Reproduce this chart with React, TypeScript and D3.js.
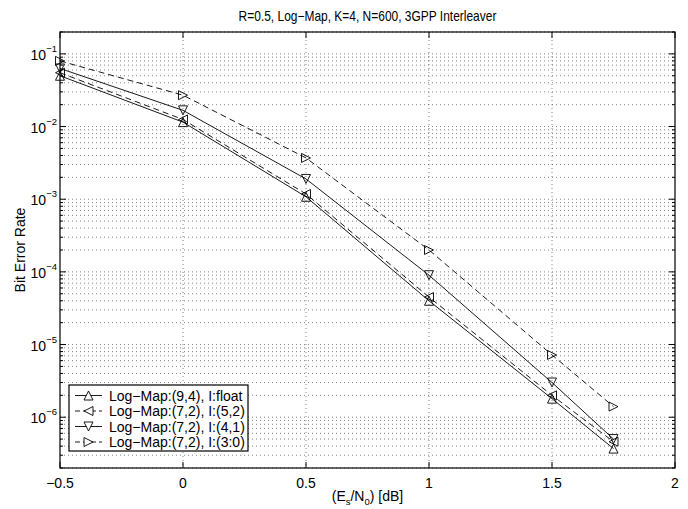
import React from "react";
import * as d3 from "d3";

const xValues = [-0.5, 0, 0.5, 1, 1.5, 1.75];
const seriesNames = [
  "Log\u2212Map:(9,4), I:float",
  "Log\u2212Map:(7,2), I:(5,2)",
  "Log\u2212Map:(7,2), I:(4,1)",
  "Log\u2212Map:(7,2), I:(3:0)",
];
const s1 = [0.05, 0.0115, 0.00108, 4.0e-5, 1.8e-6, 3.7e-7];
const s2 = [0.055, 0.0125, 0.00118, 4.5e-5, 2.0e-6, 4.6e-7];
const s3 = [0.063, 0.0167, 0.0019, 9.0e-5, 3.0e-6, 5.0e-7];
const s4 = [0.08, 0.027, 0.0037, 2.0e-4, 7.2e-6, 1.4e-6];
const xTicks = [-0.5, 0, 0.5, 1, 1.5, 2];
const xTickLabels = ["\u22120.5", "0", "0.5", "1", "1.5", "2"];
const yDecades = [-6, -5, -4, -3, -2, -1];
const titleText = "R=0.5, Log\u2212Map, K=4, N=600, 3GPP Interleaver";

const W = 688, H = 509;
const L = 60, R = 675, T = 32, B = 468;

const markers = ["up", "left", "down", "right"];
const dashes = ["", "6,4", "", "6,4"];

function tri(dir: string, cx: number, cy: number, s = 4.5) {
  let pts: [number, number][];
  if (dir === "up") pts = [[cx, cy - s], [cx - s, cy + s], [cx + s, cy + s]];
  else if (dir === "down") pts = [[cx, cy + s], [cx - s, cy - s], [cx + s, cy - s]];
  else if (dir === "left") pts = [[cx - s, cy], [cx + s, cy - s], [cx + s, cy + s]];
  else pts = [[cx + s, cy], [cx - s, cy - s], [cx - s, cy + s]];
  return pts.map((p) => p.join(",")).join(" ");
}

export default function App() {
  const x = d3.scaleLinear().domain([-0.5, 2]).range([L, R]);
  const y = d3.scaleLog().domain([2e-7, 2e-1]).range([B, T]);
  const series = [s1, s2, s3, s4];
  const line = d3
    .line<number>()
    .x((_, i) => x(xValues[i]))
    .y((d) => y(d));

  const minorVals: number[] = [];
  for (let e = -7; e <= -1; e++) {
    for (let m = 1; m <= 9; m++) {
      const v = m * Math.pow(10, e);
      if (v >= 2e-7 && v <= 2e-1) minorVals.push(v);
    }
  }
  const font = "'Liberation Sans', Arial, Helvetica, sans-serif";
  const gridStyle = { stroke: "#333", strokeWidth: 0.6, strokeDasharray: "1,3" };

  return (
    <svg width={W} height={H} style={{ position: "absolute", left: 0, top: 0, background: "#fff" }} fontFamily={font}>
      <rect x={0} y={0} width={W} height={H} fill="#fff" />
      {/* grid */}
      {minorVals.map((v, i) => (
        <line key={"gy" + i} x1={L} x2={R} y1={y(v)} y2={y(v)} {...gridStyle} />
      ))}
      {xTicks.slice(1, -1).map((t, i) => (
        <line key={"gx" + i} x1={x(t)} x2={x(t)} y1={T} y2={B} {...gridStyle} />
      ))}
      {/* ticks */}
      {xTicks.map((t, i) => (
        <g key={"xt" + i}>
          <line x1={x(t)} x2={x(t)} y1={B} y2={B - 6} stroke="#000" />
          <line x1={x(t)} x2={x(t)} y1={T} y2={T + 6} stroke="#000" />
          <text x={x(t)} y={488} fontSize={14} textAnchor="middle">{xTickLabels[i]}</text>
        </g>
      ))}
      {minorVals.map((v, i) => {
        const major = Math.abs(Math.log10(v) - Math.round(Math.log10(v))) < 1e-9;
        const len = major ? 6 : 3;
        return (
          <g key={"yt" + i}>
            <line x1={L} x2={L + len} y1={y(v)} y2={y(v)} stroke="#000" />
            <line x1={R} x2={R - len} y1={y(v)} y2={y(v)} stroke="#000" />
          </g>
        );
      })}
      {yDecades.map((e) => (
        <text key={"yl" + e} x={57} y={y(Math.pow(10, e)) + 6} fontSize={14} textAnchor="end">
          10<tspan fontSize={9.5} dy={-8}>{"\u2212" + Math.abs(e)}</tspan>
        </text>
      ))}
      {/* series */}
      {series.map((s, k) => (
        <g key={"s" + k}>
          <path d={line(s) || ""} fill="none" stroke="#000" strokeWidth={0.9} strokeDasharray={dashes[k] || undefined} />
          {s.map((v, i) => (
            <polygon key={i} points={tri(markers[k], x(xValues[i]), y(v))} fill="none" stroke="#000" strokeWidth={0.9} />
          ))}
        </g>
      ))}
      {/* axes box */}
      <rect x={L} y={T} width={R - L} height={B - T} fill="none" stroke="#000" strokeWidth={1.2} />
      {/* legend */}
      <g>
        <rect x={69} y={385} width={179} height={66} fill="#fff" stroke="#000" strokeWidth={1.2} />
        {seriesNames.map((n, k) => {
          const ly = 395.5 + k * 15.5;
          return (
            <g key={"lg" + k}>
              <line x1={75} x2={102} y1={ly} y2={ly} stroke="#000" strokeWidth={0.9} strokeDasharray={dashes[k] ? "5,3" : undefined} />
              <polygon points={tri(markers[k], 88.5, ly)} fill="#fff" stroke="#000" strokeWidth={0.9} />
              <text x={109} y={ly + 5} fontSize={14}>{n}</text>
            </g>
          );
        })}
      </g>
      {/* labels */}
      <text x={(L + R) / 2} y={21} fontSize={14} textAnchor="middle" transform={`translate(${(L + R) / 2},0) scale(0.855,1) translate(${-(L + R) / 2},0)`}>{titleText}</text>
      <text x={(L + R) / 2} y={501} fontSize={14} textAnchor="middle">
        (E<tspan fontSize={9.5} dy={3.5}>s</tspan><tspan dy={-3.5}>/N</tspan><tspan fontSize={9.5} dy={3.5}>0</tspan><tspan dy={-3.5}>) [dB]</tspan>
      </text>
      <text transform={`translate(25,${(T + B) / 2}) rotate(-90)`} fontSize={14} textAnchor="middle">Bit Error Rate</text>
    </svg>
  );
}
